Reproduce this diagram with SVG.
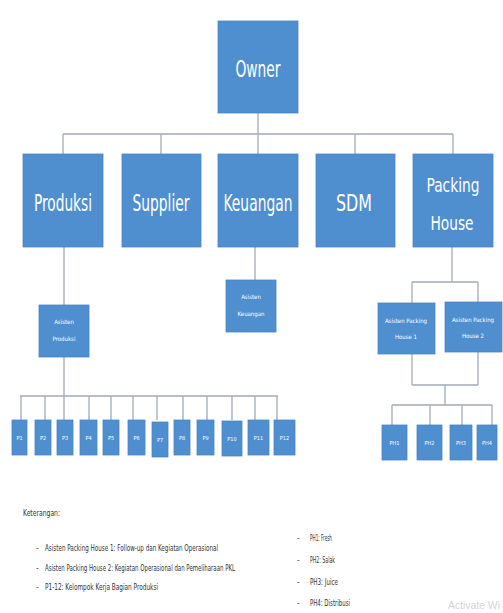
<svg xmlns="http://www.w3.org/2000/svg" width="503" height="613" viewBox="0 0 503 613">
<style>
.box{fill:#4f8fd0;stroke:#4a86c4;stroke-width:0.8}
.lbl{fill:#ffffff;font-family:"Liberation Sans Narrow","DejaVu Sans Condensed","Liberation Sans",sans-serif;text-anchor:middle}
.big{font-size:23px}
.mid{font-size:20px}
.sm{font-size:6px}
.xs{font-size:5.5px}
.con{stroke:#a3abb8;stroke-width:1.3;fill:none}
.leg{fill:#333333;font-family:"Liberation Sans Narrow","DejaVu Sans Condensed","Liberation Sans",sans-serif;font-size:8px}
</style>
<rect width="503" height="613" fill="#ffffff"/>
<g id="connectors">
<path class="con" d="M258 113V134M63 134H453M63 134V154M161 134V154M258 134V154M355 134V154M453 134V154"/>
<path class="con" d="M255 247V280"/>
<path class="con" d="M64 247V396M20 396H278M21 396V420M45 396V420M64 396V420M89 396V420M111 396V420M133 396V420M157 396V420M183 396V420M207 396V420M232 396V420M255 396V420M277 396V420"/>
<path class="con" d="M452 247V282M412 282H478M412 282V303M478 282V303"/>
<path class="con" d="M412 354V385M478 352V385M412 385H478M445 385V405M392 405H492M392 405V425M430 405V425M462 405V425M492 405V425"/>
</g>
<g id="owner"><rect class="box" x="218" y="21" width="80" height="92"/><text class="lbl big" x="258" y="77" textLength="45" lengthAdjust="spacingAndGlyphs">Owner</text></g>
<g id="produksi"><rect class="box" x="23" y="154" width="80" height="93"/><text class="lbl big" x="63" y="211" textLength="58" lengthAdjust="spacingAndGlyphs">Produksi</text></g>
<g id="supplier"><rect class="box" x="122" y="154" width="79" height="93"/><text class="lbl big" x="161" y="211" textLength="57" lengthAdjust="spacingAndGlyphs">Supplier</text></g>
<g id="keuangan"><rect class="box" x="218" y="154" width="80" height="93"/><text class="lbl big" x="258" y="211" textLength="69" lengthAdjust="spacingAndGlyphs">Keuangan</text></g>
<g id="sdm"><rect class="box" x="316" y="154" width="79" height="93"/><text class="lbl big" x="354" y="211" textLength="36" lengthAdjust="spacingAndGlyphs">SDM</text></g>
<g id="packing-house"><rect class="box" x="413" y="154" width="80" height="93"/><text class="lbl mid" x="453" y="192" textLength="53" lengthAdjust="spacingAndGlyphs">Packing</text><text class="lbl mid" x="452" y="230" textLength="43" lengthAdjust="spacingAndGlyphs">House</text></g>
<g id="asisten-keuangan"><rect class="box" x="226" y="280" width="50" height="52"/><text class="lbl sm" x="251" y="299">Asisten</text><text class="lbl sm" x="251" y="316">Keuangan</text></g>
<g id="asisten-produksi"><rect class="box" x="39" y="305" width="50" height="52"/><text class="lbl sm" x="64" y="324">Asisten</text><text class="lbl sm" x="64" y="341">Produksi</text></g>
<g id="asisten-ph1"><rect class="box" x="378" y="303" width="57" height="51"/><text class="lbl sm" x="406" y="323">Asisten Packing</text><text class="lbl sm" x="406" y="339">House 1</text></g>
<g id="asisten-ph2"><rect class="box" x="445" y="302" width="57" height="50"/><text class="lbl sm" x="473" y="322">Asisten Packing</text><text class="lbl sm" x="473" y="338">House 2</text></g>
<g id="p1"><rect class="box" x="12" y="420" width="15" height="35"/><text class="lbl xs" x="19.5" y="440">P1</text></g>
<g id="p2"><rect class="box" x="35" y="420" width="16" height="35"/><text class="lbl xs" x="43" y="440">P2</text></g>
<g id="p3"><rect class="box" x="57" y="420" width="16" height="35"/><text class="lbl xs" x="65" y="440">P3</text></g>
<g id="p4"><rect class="box" x="80" y="420" width="17" height="35"/><text class="lbl xs" x="88.5" y="440">P4</text></g>
<g id="p5"><rect class="box" x="103" y="420" width="16" height="35"/><text class="lbl xs" x="111" y="440">P5</text></g>
<g id="p6"><rect class="box" x="128" y="420" width="17" height="35"/><text class="lbl xs" x="136.5" y="440">P6</text></g>
<g id="p7"><rect class="box" x="152" y="422" width="16" height="35"/><text class="lbl xs" x="160" y="442">P7</text></g>
<g id="p8"><rect class="box" x="174" y="420" width="16" height="35"/><text class="lbl xs" x="182" y="440">P8</text></g>
<g id="p9"><rect class="box" x="197" y="420" width="17" height="35"/><text class="lbl xs" x="205.5" y="440">P9</text></g>
<g id="p10"><rect class="box" x="222" y="421" width="20" height="35"/><text class="lbl xs" x="232" y="441">P10</text></g>
<g id="p11"><rect class="box" x="248" y="420" width="21" height="35"/><text class="lbl xs" x="258.5" y="440">P11</text></g>
<g id="p12"><rect class="box" x="274" y="420" width="21" height="35"/><text class="lbl xs" x="284.5" y="440">P12</text></g>
<g id="ph1"><rect class="box" x="382" y="425" width="25" height="35"/><text class="lbl xs" x="394.5" y="445">PH1</text></g>
<g id="ph2"><rect class="box" x="417" y="425" width="25" height="35"/><text class="lbl xs" x="429.5" y="445">PH2</text></g>
<g id="ph3"><rect class="box" x="450" y="425" width="22" height="35"/><text class="lbl xs" x="461" y="445">PH3</text></g>
<g id="ph4"><rect class="box" x="477" y="425" width="20" height="35"/><text class="lbl xs" x="487" y="445">PH4</text></g>
<g id="legend">
<text class="leg" x="23" y="516" textLength="37" lengthAdjust="spacingAndGlyphs">Keterangan:</text>
<text class="leg" x="36" y="551">-</text><text class="leg" x="45" y="551" textLength="173" lengthAdjust="spacingAndGlyphs">Asisten Packing House 1: Follow-up dan Kegiatan Operasional</text>
<text class="leg" x="36" y="571">-</text><text class="leg" x="45" y="571" textLength="190" lengthAdjust="spacingAndGlyphs">Asisten Packing House 2: Kegiatan Operasional dan Pemeliharaan PKL</text>
<text class="leg" x="36" y="590">-</text><text class="leg" x="45" y="590" textLength="113" lengthAdjust="spacingAndGlyphs">P1-12: Kelompok Kerja Bagian Produksi</text>
<text class="leg" x="297" y="541">-</text><text class="leg" x="310" y="541" textLength="22" lengthAdjust="spacingAndGlyphs">PH1: Fresh</text>
<text class="leg" x="297" y="563">-</text><text class="leg" x="310" y="563" textLength="25" lengthAdjust="spacingAndGlyphs">PH2: Salak</text>
<text class="leg" x="297" y="585">-</text><text class="leg" x="310" y="585" textLength="28" lengthAdjust="spacingAndGlyphs">PH3: Juice</text>
<text class="leg" x="297" y="606">-</text><text class="leg" x="310" y="606" textLength="40" lengthAdjust="spacingAndGlyphs">PH4: Distribusi</text>
</g>
<text x="448" y="609" fill="#d4d4d4" font-family="Liberation Sans Narrow,Liberation Sans,sans-serif" font-size="10" textLength="52" lengthAdjust="spacingAndGlyphs">Activate Wi</text>
</svg>
